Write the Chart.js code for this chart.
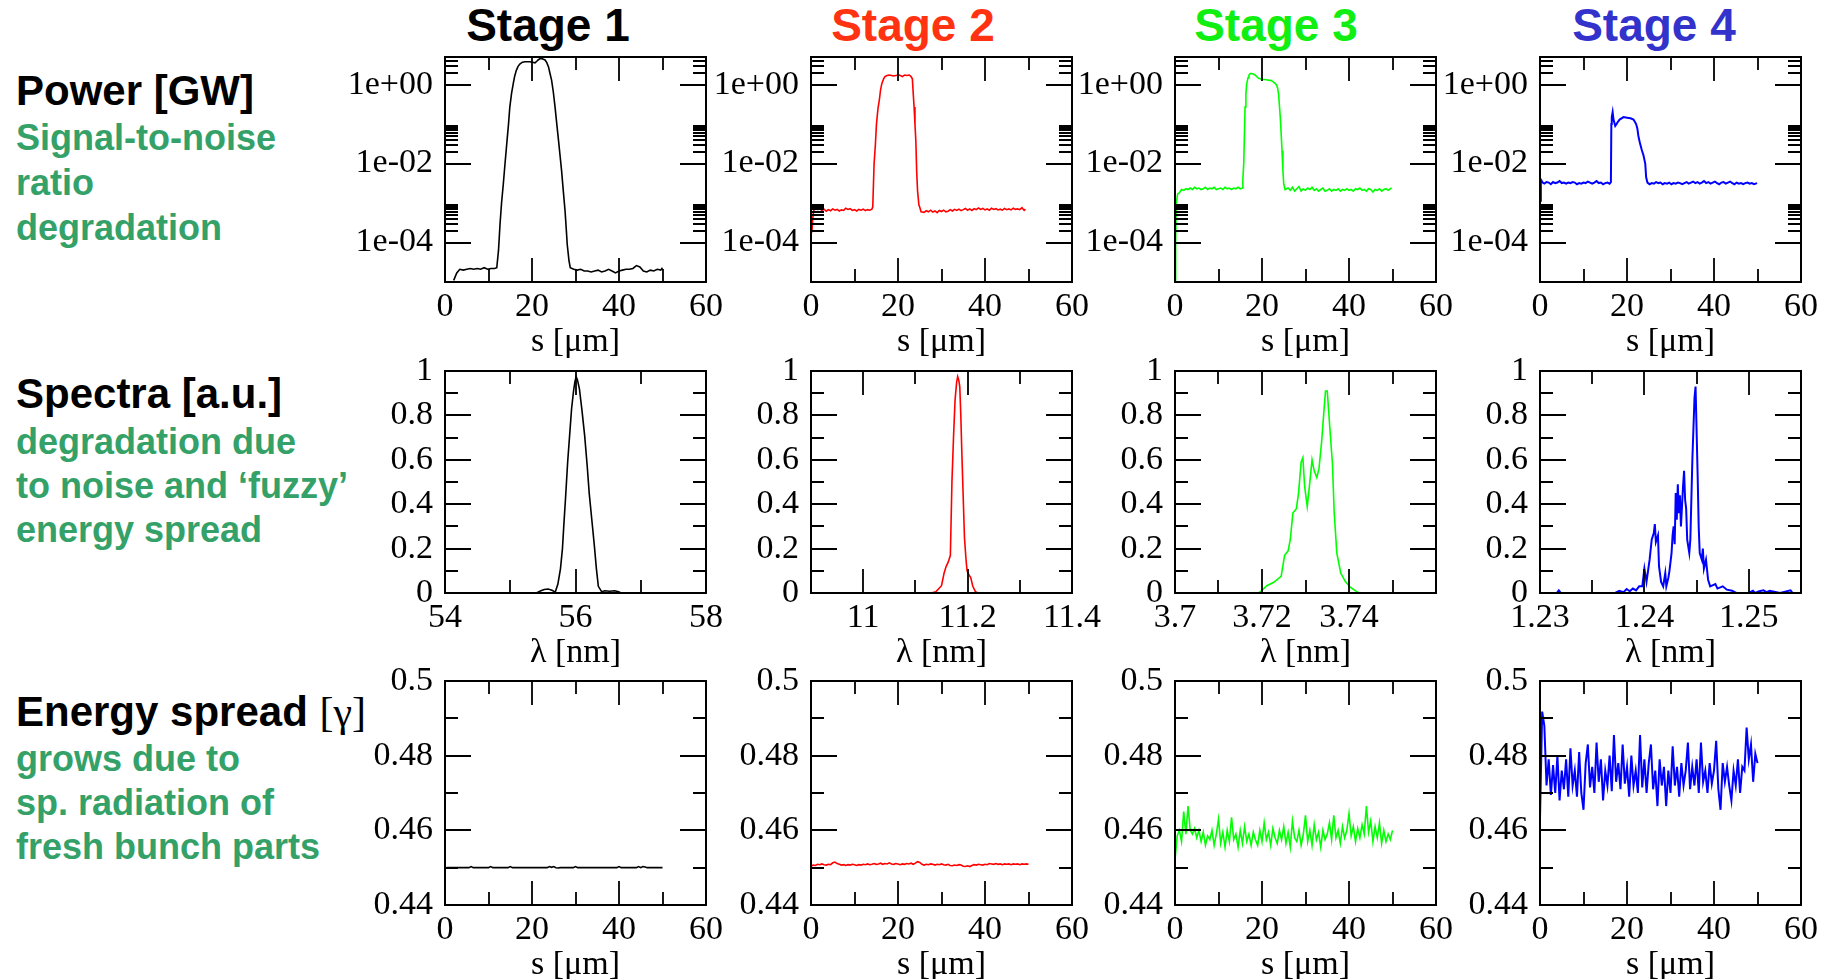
<!DOCTYPE html>
<html>
<head>
<meta charset="utf-8">
<script src="https://cdn.jsdelivr.net/npm/chart.js@4.4.1/dist/chart.umd.min.js"></script>
<style>
  html, body { margin: 0; padding: 0; background: #fff; }
  body { width: 1836px; height: 979px; position: relative; overflow: hidden; font-family: 'Liberation Sans', Arial, sans-serif; }
  canvas { position: absolute; }
  .stage { position: absolute; top: 2px; width: 320px; margin-left: -160px; text-align: center; font-weight: bold; font-size: 46px; line-height: 46px; white-space: nowrap; }
  .head { position: absolute; left: 16px; font-weight: bold; font-size: 42px; line-height: 42px; color: #000; white-space: nowrap; }
  .note { position: absolute; left: 16px; font-weight: bold; font-size: 36px; color: #34a169; white-space: nowrap; }
  .serif { font-family: 'Liberation Serif', 'Times New Roman', serif; font-weight: normal; }
</style>
</head>
<body>
<div class="stage" style="left:548px;color:#000">Stage 1</div>
<div class="stage" style="left:913px;color:#ff3311">Stage 2</div>
<div class="stage" style="left:1276px;color:#11ee11">Stage 3</div>
<div class="stage" style="left:1654px;color:#3333cc">Stage 4</div>

<div class="head" style="top:70px">Power [GW]</div>
<div class="note" style="top:115px;line-height:45px">Signal-to-noise<br>ratio<br>degradation</div>
<div class="head" style="top:373px">Spectra [a.u.]</div>
<div class="note" style="top:420px;line-height:44px">degradation due<br>to noise and ‘fuzzy’<br>energy spread</div>
<div class="head" style="top:691px">Energy spread <span class="serif">[γ]</span></div>
<div class="note" style="top:737px;line-height:44px">grows due to<br>sp. radiation of<br>fresh bunch parts</div>

<script>
// values
const stageColors = ['#000000', '#ff0000', '#00ff00', '#0000ff'];

// power [GW] vs s [um]
const powerStage1 = [[2.0,1.1e-5],[2.7,1.7e-5],[3.4,2.1e-5],[4.2,2.0e-5],[5.0,2.1e-5],[5.8,2.2e-5],[6.6,2.1e-5],[7.4,2.2e-5],[8.2,2.1e-5],[9.0,2.3e-5],[9.8,2.1e-5],[10.6,2.2e-5],[11.4,2.2e-5],[11.9,2.3e-5],[12.3,6.3e-5],[12.65,2.9e-4],[13.0,1.0e-3],[13.4,3.0e-3],[13.8,1.0e-2],[14.2,3.2e-2],[14.6,0.1],[14.9,0.27],[15.3,0.6],[15.7,1.07],[16.0,1.6],[16.4,2.3],[16.8,2.9],[17.2,3.3],[17.8,3.7],[18.4,3.8],[19.0,3.8],[19.5,3.8],[20.1,3.7],[20.7,3.55],[21.1,3.9],[21.4,4.2],[21.8,4.5],[22.2,4.6],[22.6,4.4],[23.0,4.2],[23.4,3.6],[23.8,2.8],[24.1,2.0],[24.5,1.3],[24.9,0.65],[25.3,0.27],[25.7,0.1],[26.1,0.038],[26.5,0.014],[26.8,6.6e-3],[27.2,2.0e-3],[27.6,6.3e-4],[27.9,2.0e-4],[28.1,8.9e-5],[28.5,3.5e-5],[28.8,2.3e-5],[29.6,2.1e-5],[30.4,2.0e-5],[31.2,2.1e-5],[32.0,1.9e-5],[32.8,1.9e-5],[33.6,1.8e-5],[34.4,1.9e-5],[35.2,2.0e-5],[36.0,1.8e-5],[36.8,1.9e-5],[37.6,2.1e-5],[38.4,1.9e-5],[39.2,1.7e-5],[40.0,1.9e-5],[40.8,2.0e-5],[41.6,2.1e-5],[42.4,2.1e-5],[43.2,2.2e-5],[44.0,2.6e-5],[44.8,2.4e-5],[45.6,1.9e-5],[46.4,1.8e-5],[47.2,2.0e-5],[48.0,1.9e-5],[48.8,2.1e-5],[49.6,2.0e-5],[50.0,2.3e-5]];
const powerStage2 = [[0.2,1.8e-4],[0.4,4.0e-4],[0.6,6.3e-4],[1.0,7.5e-4],[1.5,6.8e-4],[2.0,7.2e-4],[2.5,6.5e-4],[3.0,7.0e-4],[3.5,6.2e-4],[4.0,6.8e-4],[4.5,6.4e-4],[5.0,7.1e-4],[5.5,6.6e-4],[6.0,6.9e-4],[6.5,6.3e-4],[7.0,6.7e-4],[7.5,6.5e-4],[8.0,7.4e-4],[8.5,6.9e-4],[9.0,7.2e-4],[9.5,6.5e-4],[10.0,6.8e-4],[10.5,6.3e-4],[11.0,6.9e-4],[11.5,6.6e-4],[12.0,7.0e-4],[12.5,6.4e-4],[13.0,6.8e-4],[13.5,6.6e-4],[14.0,7.0e-4],[14.2,8.0e-4],[14.5,9.8e-3],[14.8,3.0e-2],[15.05,0.1],[15.4,0.25],[15.7,0.4],[16.0,0.75],[16.3,1.07],[16.7,1.4],[17.0,1.6],[17.5,1.7],[18.0,1.75],[18.5,1.7],[19.0,1.65],[19.5,1.7],[20.3,1.75],[21.0,1.6],[21.5,1.75],[22.0,1.7],[22.6,1.75],[23.0,1.6],[23.3,1.4],[23.5,0.6],[23.7,0.27],[23.9,0.1],[24.1,0.038],[24.3,6.0e-3],[24.5,2.0e-3],[24.8,9.0e-4],[25.0,7.8e-4],[25.3,6.0e-4],[26.0,5.8e-4],[26.5,6.4e-4],[27.0,6.0e-4],[27.5,6.6e-4],[28.0,5.9e-4],[28.5,6.3e-4],[29.0,5.7e-4],[29.5,6.5e-4],[30.0,6.1e-4],[30.5,6.6e-4],[31.0,6.0e-4],[31.5,6.2e-4],[32.0,6.8e-4],[32.5,6.3e-4],[33.0,6.9e-4],[33.5,6.5e-4],[34.0,7.0e-4],[34.5,6.4e-4],[35.0,6.8e-4],[35.5,7.3e-4],[36.0,6.6e-4],[36.5,7.1e-4],[37.0,6.5e-4],[37.5,7.2e-4],[38.0,6.8e-4],[38.5,7.5e-4],[39.0,6.9e-4],[39.5,7.3e-4],[40.0,6.7e-4],[40.5,7.1e-4],[41.0,6.6e-4],[41.5,7.4e-4],[42.0,6.9e-4],[42.5,7.2e-4],[43.0,6.7e-4],[43.5,7.0e-4],[44.0,6.6e-4],[44.5,7.3e-4],[45.0,6.8e-4],[45.5,7.1e-4],[46.0,6.7e-4],[46.5,7.4e-4],[47.0,6.9e-4],[47.5,7.1e-4],[48.0,6.8e-4],[48.5,7.6e-4],[49.0,6.5e-4],[49.3,7.0e-4]];
const powerStage3 = [[0.05,5.0e-6],[0.15,1.0e-4],[0.3,1.0e-3],[0.6,1.7e-3],[1.0,1.8e-3],[1.5,2.2e-3],[2.0,2.1e-3],[2.5,2.3e-3],[3.0,2.2e-3],[3.5,2.4e-3],[4.0,2.2e-3],[4.5,2.5e-3],[5.0,2.3e-3],[5.5,2.4e-3],[6.0,2.2e-3],[6.5,2.3e-3],[7.0,2.5e-3],[7.5,2.2e-3],[8.0,2.4e-3],[8.5,2.3e-3],[9.0,2.5e-3],[9.5,2.2e-3],[10.0,2.3e-3],[10.5,2.4e-3],[11.0,2.2e-3],[11.5,2.5e-3],[12.0,2.3e-3],[12.5,2.4e-3],[13.0,2.2e-3],[13.5,2.4e-3],[14.0,2.3e-3],[14.5,2.5e-3],[15.0,2.3e-3],[15.5,2.4e-3],[15.6,4.0e-3],[15.8,9.8e-3],[15.95,0.05],[16.1,0.27],[16.3,0.6],[16.5,1.07],[16.8,1.5],[17.0,1.74],[17.3,1.9],[17.6,1.9],[18.0,1.85],[18.4,1.75],[18.8,1.6],[19.2,1.45],[19.6,1.4],[20.0,1.35],[20.5,1.35],[21.0,1.33],[21.5,1.3],[22.0,1.28],[22.6,1.17],[23.0,1.08],[23.4,0.95],[23.6,0.8],[23.8,0.59],[24.0,0.3],[24.2,0.15],[24.4,0.06],[24.6,0.021],[24.8,7.0e-3],[25.0,3.0e-3],[25.3,2.2e-3],[26.0,2.4e-3],[26.5,2.1e-3],[27.0,2.5e-3],[27.5,2.0e-3],[28.0,2.3e-3],[28.5,2.6e-3],[29.0,2.0e-3],[29.5,2.3e-3],[30.0,2.1e-3],[30.5,2.4e-3],[31.0,2.2e-3],[31.5,2.5e-3],[32.0,2.1e-3],[32.5,2.3e-3],[33.0,2.0e-3],[33.5,2.2e-3],[34.0,2.4e-3],[34.5,2.0e-3],[35.0,2.1e-3],[35.5,2.3e-3],[36.0,2.0e-3],[36.5,2.2e-3],[37.0,2.1e-3],[37.5,2.3e-3],[38.0,2.0e-3],[38.5,2.2e-3],[39.0,2.1e-3],[39.5,2.3e-3],[40.0,2.1e-3],[40.5,2.2e-3],[41.0,2.0e-3],[41.5,2.3e-3],[42.0,2.2e-3],[42.5,2.4e-3],[43.0,2.1e-3],[43.5,2.2e-3],[44.0,2.0e-3],[44.5,2.3e-3],[45.0,2.2e-3],[45.5,1.9e-3],[46.0,2.2e-3],[46.5,2.1e-3],[47.0,2.3e-3],[47.5,2.0e-3],[48.0,2.2e-3],[48.5,2.3e-3],[49.0,2.1e-3],[49.5,2.3e-3],[49.8,2.4e-3]];
const powerStage4 = [[0.05,1.15e-3],[0.2,3.9e-3],[0.6,3.3e-3],[1.0,3.1e-3],[1.5,3.4e-3],[2.0,3.3e-3],[2.5,3.0e-3],[3.0,3.4e-3],[3.5,3.2e-3],[4.0,3.3e-3],[4.5,3.6e-3],[5.0,3.2e-3],[5.5,3.3e-3],[6.0,3.1e-3],[6.5,3.3e-3],[7.0,3.2e-3],[7.5,3.4e-3],[8.0,3.3e-3],[8.5,3.0e-3],[9.0,3.2e-3],[9.5,3.1e-3],[10.0,3.3e-3],[10.5,3.2e-3],[11.0,3.5e-3],[11.5,3.3e-3],[12.0,3.1e-3],[12.5,3.3e-3],[13.0,3.6e-3],[13.5,3.2e-3],[14.0,3.3e-3],[14.5,3.0e-3],[15.0,3.2e-3],[15.5,3.3e-3],[16.0,3.1e-3],[16.3,3.4e-3],[16.4,0.1],[16.5,0.15],[16.7,0.2],[16.9,0.13],[17.3,0.09],[17.6,0.1],[17.8,0.11],[18.3,0.13],[19.2,0.15],[20.0,0.145],[20.8,0.14],[21.5,0.13],[22.1,0.1],[22.4,0.075],[22.6,0.051],[22.8,0.04],[23.0,0.032],[23.4,0.022],[23.8,0.016],[24.2,9.8e-3],[24.4,4.5e-3],[24.7,3.3e-3],[25.2,3.0e-3],[25.7,3.2e-3],[26.2,3.1e-3],[26.7,3.4e-3],[27.2,3.2e-3],[27.7,3.3e-3],[28.2,3.0e-3],[28.7,3.2e-3],[29.2,3.1e-3],[29.7,3.3e-3],[30.2,3.0e-3],[30.7,3.2e-3],[31.2,3.1e-3],[31.7,3.3e-3],[32.2,3.2e-3],[32.7,3.0e-3],[33.2,3.2e-3],[33.7,3.4e-3],[34.2,3.1e-3],[34.7,3.3e-3],[35.2,3.5e-3],[35.7,3.2e-3],[36.2,3.4e-3],[36.7,3.1e-3],[37.2,3.3e-3],[37.7,3.6e-3],[38.2,3.2e-3],[38.7,3.4e-3],[39.2,3.1e-3],[39.7,3.3e-3],[40.2,3.5e-3],[40.7,3.2e-3],[41.2,3.0e-3],[41.7,3.3e-3],[42.2,3.4e-3],[42.7,3.1e-3],[43.2,3.3e-3],[43.7,3.5e-3],[44.2,3.2e-3],[44.7,3.0e-3],[45.2,3.3e-3],[45.7,3.1e-3],[46.2,3.2e-3],[46.7,3.0e-3],[47.2,3.2e-3],[47.7,3.3e-3],[48.2,3.1e-3],[48.7,3.2e-3],[49.2,3.0e-3],[49.9,3.2e-3]];

// spectra [a.u.] vs lambda [nm]
const spectrumStage1 = [[55.40,0],[55.47,0.01],[55.52,0.016],[55.58,0.018],[55.64,0.012],[55.69,0.004],[55.73,0.04],[55.77,0.11],[55.80,0.2],[55.82,0.30],[55.85,0.44],[55.88,0.59],[55.91,0.71],[55.94,0.83],[55.97,0.91],[55.99,0.95],[56.01,0.975],[56.03,0.96],[56.06,0.92],[56.10,0.82],[56.14,0.71],[56.18,0.57],[56.21,0.45],[56.25,0.33],[56.29,0.21],[56.32,0.11],[56.35,0.03],[56.40,0.006],[56.45,0.01],[56.52,0.008],[56.60,0.01],[56.66,0.006],[56.70,0]];
const spectrumStage2 = [[11.130,0],[11.139,0.005],[11.145,0.02],[11.150,0.033],[11.155,0.09],[11.159,0.12],[11.163,0.14],[11.167,0.17],[11.170,0.5],[11.173,0.7],[11.176,0.87],[11.179,0.95],[11.181,0.975],[11.183,0.96],[11.185,0.93],[11.187,0.8],[11.189,0.63],[11.192,0.4],[11.194,0.25],[11.197,0.15],[11.199,0.1],[11.203,0.08],[11.206,0.07],[11.210,0.03],[11.215,0.006],[11.220,0]];
const spectrumStage3 = [[3.7190,0],[3.7197,0.006],[3.7211,0.033],[3.7227,0.048],[3.7244,0.075],[3.7252,0.17],[3.7260,0.19],[3.7265,0.24],[3.7271,0.36],[3.7279,0.38],[3.7284,0.45],[3.7290,0.59],[3.7294,0.61],[3.7298,0.48],[3.7304,0.39],[3.7309,0.48],[3.7315,0.60],[3.7320,0.55],[3.7326,0.52],[3.7331,0.56],[3.7337,0.68],[3.7342,0.81],[3.7346,0.91],[3.7350,0.91],[3.7355,0.77],[3.7362,0.58],[3.7366,0.36],[3.7372,0.18],[3.7381,0.09],[3.7392,0.05],[3.7403,0.026],[3.7419,0.004],[3.7425,0]];
const spectrumStage4 = [[1.2300,0],[1.2316,0],[1.2318,0.012],[1.2320,0],[1.2372,0],[1.2376,0.01],[1.2380,0.004],[1.2383,0.018],[1.2386,0.008],[1.2389,0.02],[1.2392,0.012],[1.2395,0.03],[1.2398,0.03],[1.2400,0.11],[1.2402,0.05],[1.2405,0.15],[1.2407,0.24],[1.2409,0.27],[1.2410,0.31],[1.2411,0.23],[1.2413,0.26],[1.2414,0.12],[1.2416,0.05],[1.2418,0.03],[1.2420,0.09],[1.2421,0.03],[1.2423,0.07],[1.2424,0.10],[1.2426,0.18],[1.2427,0.26],[1.2428,0.30],[1.2429,0.22],[1.2430,0.45],[1.2431,0.33],[1.2432,0.49],[1.2433,0.36],[1.2434,0.44],[1.2435,0.30],[1.2436,0.39],[1.2437,0.48],[1.2438,0.55],[1.2439,0.42],[1.2440,0.38],[1.2441,0.24],[1.2443,0.18],[1.2444,0.24],[1.2446,0.61],[1.2448,0.88],[1.2449,0.93],[1.2451,0.53],[1.2452,0.30],[1.2453,0.18],[1.2455,0.15],[1.2456,0.20],[1.2457,0.11],[1.2459,0.15],[1.2461,0.06],[1.2463,0.03],[1.2468,0.04],[1.2470,0.02],[1.2475,0.03],[1.2479,0.015],[1.2484,0.01],[1.2488,0],[1.2500,0],[1.2504,0.01],[1.2506,0],[1.2510,0.008],[1.2514,0.012],[1.2517,0.004],[1.2520,0.01],[1.2530,0],[1.2540,0.012],[1.2542,0]];

// energy spread [gamma] vs s [um]
const spreadS = [0,0.5,1,1.5,2,2.5,3,3.5,4,4.5,5,5.5,6,6.5,7,7.5,8,8.5,9,9.5,10,10.5,11,11.5,12,12.5,13,13.5,14,14.5,15,15.5,16,16.5,17,17.5,18,18.5,19,19.5,20,20.5,21,21.5,22,22.5,23,23.5,24,24.5,25,25.5,26,26.5,27,27.5,28,28.5,29,29.5,30,30.5,31,31.5,32,32.5,33,33.5,34,34.5,35,35.5,36,36.5,37,37.5,38,38.5,39,39.5,40,40.5,41,41.5,42,42.5,43,43.5,44,44.5,45,45.5,46,46.5,47,47.5,48,48.5,49,49.5,50];
const spreadStage1 = [0.4499,0.4500,0.4500,0.4500,0.4500,0.4500,0.4500,0.4500,0.4500,0.4500,
  0.4500,0.4500,0.4503,0.4500,0.4500,0.4500,0.4500,0.4500,0.4500,0.4500,
  0.4500,0.4503,0.4500,0.4500,0.4500,0.4500,0.4500,0.4500,0.4500,0.4500,
  0.4503,0.4500,0.4500,0.4500,0.4500,0.4500,0.4500,0.4500,0.4500,0.4500,
  0.4500,0.4500,0.4500,0.4500,0.4500,0.4500,0.4500,0.4500,0.4503,0.4501,
  0.4503,0.4500,0.4499,0.4500,0.4500,0.4500,0.4500,0.4500,0.4500,0.4500,
  0.4503,0.4500,0.4500,0.4500,0.4500,0.4500,0.4500,0.4500,0.4500,0.4500,
  0.4500,0.4500,0.4500,0.4500,0.4500,0.4500,0.4500,0.4500,0.4500,0.4500,
  0.4503,0.4500,0.4500,0.4500,0.4500,0.4500,0.4500,0.4500,0.4500,0.4503,
  0.4500,0.4503,0.4502,0.4500,0.4500,0.4500,0.4500,0.4500,0.4500,0.4500,
  0.4500];
const spreadStage2 = [0.4504,0.4507,0.4506,0.4509,0.4508,0.4510,0.4508,0.4507,0.4509,0.4508,
  0.4513,0.4515,0.4511,0.4509,0.4507,0.4508,0.4506,0.4508,0.4507,0.4509,
  0.4508,0.4506,0.4508,0.4507,0.4509,0.4508,0.4510,0.4508,0.4509,0.4511,
  0.4509,0.4510,0.4512,0.4509,0.4511,0.4510,0.4513,0.4510,0.4509,0.4511,
  0.4510,0.4508,0.4510,0.4509,0.4511,0.4510,0.4512,0.4509,0.4512,0.4516,
  0.4514,0.4509,0.4507,0.4509,0.4508,0.4510,0.4509,0.4507,0.4509,0.4508,
  0.4510,0.4508,0.4507,0.4509,0.4506,0.4505,0.4507,0.4506,0.4508,0.4507,
  0.4504,0.4503,0.4505,0.4503,0.4506,0.4508,0.4507,0.4509,0.4508,0.4507,
  0.4509,0.4508,0.4511,0.4510,0.4509,0.4511,0.4509,0.4510,0.4508,0.4510,
  0.4509,0.4510,0.4508,0.4510,0.4509,0.4510,0.4508,0.4510,0.4509,0.4510,
  0.4509];
const spreadStage3 = [0.4520,0.4585,0.4600,0.4570,0.4650,0.4590,0.4665,0.4600,0.4590,0.4605,
  0.4580,0.4600,0.4570,0.4595,0.4560,0.4585,0.4575,0.4600,0.4560,0.4590,
  0.4630,0.4565,0.4595,0.4555,0.4600,0.4570,0.4635,0.4575,0.4590,0.4555,
  0.4600,0.4565,0.4610,0.4570,0.4590,0.4560,0.4595,0.4575,0.4560,0.4600,
  0.4570,0.4620,0.4575,0.4595,0.4560,0.4605,0.4580,0.4565,0.4600,0.4575,
  0.4610,0.4565,0.4595,0.4555,0.4625,0.4580,0.4570,0.4600,0.4560,0.4590,
  0.4640,0.4570,0.4600,0.4560,0.4615,0.4575,0.4595,0.4555,0.4600,0.4575,
  0.4590,0.4620,0.4575,0.4640,0.4580,0.4600,0.4565,0.4610,0.4580,0.4600,
  0.4645,0.4585,0.4610,0.4570,0.4605,0.4580,0.4615,0.4590,0.4665,0.4595,
  0.4625,0.4570,0.4610,0.4580,0.4620,0.4565,0.4600,0.4570,0.4590,0.4575,
  0.4600];
const spreadStage4 = [0.4630,0.4918,0.4880,0.4720,0.4790,0.4695,0.4775,0.4700,0.4800,0.4680,
  0.4760,0.4710,0.4790,0.4690,0.4820,0.4720,0.4760,0.4690,0.4810,0.4700,
  0.4655,0.4780,0.4830,0.4715,0.4770,0.4700,0.4835,0.4730,0.4790,0.4680,
  0.4760,0.4720,0.4800,0.4705,0.4855,0.4730,0.4780,0.4710,0.4830,0.4725,
  0.4770,0.4690,0.4800,0.4720,0.4760,0.4700,0.4855,0.4715,0.4790,0.4700,
  0.4780,0.4830,0.4710,0.4760,0.4665,0.4790,0.4720,0.4770,0.4665,0.4760,
  0.4700,0.4825,0.4720,0.4770,0.4690,0.4780,0.4720,0.4760,0.4835,0.4710,
  0.4770,0.4720,0.4790,0.4700,0.4835,0.4730,0.4760,0.4700,0.4780,0.4725,
  0.4760,0.4840,0.4710,0.4655,0.4780,0.4730,0.4770,0.4720,0.4680,0.4760,
  0.4720,0.4790,0.4700,0.4770,0.4760,0.4875,0.4790,0.4830,0.4730,0.4805,
  0.4780];

// axis ticks and labels
const sTicks = [0, 20, 40, 60];
const sMinor = [10, 30, 50];
const sLabels = ['0', '20', '40', '60'];
const powerTicks = [1e-4, 1e-2, 1];
const powerMinor = [2e-4, 3e-4, 4e-4, 5e-4, 6e-4, 7e-4, 8e-4, 9e-4, 2e-2, 3e-2, 4e-2, 5e-2, 6e-2, 7e-2, 8e-2, 9e-2, 2, 3, 4, 5];
const powerLabels = ['1e-04', '1e-02', '1e+00'];
const spectrumTicks = [0, 0.2, 0.4, 0.6, 0.8, 1];
const spectrumMinor = [0.1, 0.3, 0.5, 0.7, 0.9];
const spectrumLabels = ['0', '0.2', '0.4', '0.6', '0.8', '1'];
const spreadTicks = [0.44, 0.46, 0.48, 0.5];
const spreadMinor = [0.45, 0.47, 0.49];
const spreadLabels = ['0.44', '0.46', '0.48', '0.5'];
const lambdaRanges = [[54, 58], [10.9, 11.4], [3.70, 3.76], [1.23, 1.255]];
const lambdaTicks = [[54, 56, 58], [11, 11.2, 11.4], [3.70, 3.72, 3.74, 3.76], [1.23, 1.24, 1.25]];
const lambdaMinor = [[55, 57], [11.1, 11.3], [3.71, 3.73, 3.75], [1.235, 1.245]];
const lambdaLabels = [['54', '56', '58'], ['11', '11.2', '11.4'], ['3.7', '3.72', '3.74', ''], ['1.23', '1.24', '1.25']];

// layout of the plot boxes (px)
const colLeft = [445, 811, 1175, 1540];
const colRight = [706, 1072, 1436, 1801];
const rowTop = [57, 371, 681];
const rowBottom = [282, 593, 905];
const AXIS_W = 120, AXIS_H = 90, PAD_T = 20, PAD_R = 40;

const tickFont = { family: "'Liberation Serif', 'Times New Roman', serif", size: 34 };

// xmgrace-like frame with inward ticks on all four sides
const xmFrame = {
  id: 'xmFrame',
  afterDatasetsDraw(chart, args, opts) {
    const { ctx, chartArea: a, scales: { x, y } } = chart;
    const mark = (scale, vals, len) => {
      vals.forEach(v => {
        const p = Math.round(scale.getPixelForValue(v));
        if (scale.isHorizontal()) {
          ctx.moveTo(p, a.bottom); ctx.lineTo(p, a.bottom - len);
          ctx.moveTo(p, a.top); ctx.lineTo(p, a.top + len);
        } else {
          ctx.moveTo(a.left, p); ctx.lineTo(a.left + len, p);
          ctx.moveTo(a.right, p); ctx.lineTo(a.right - len, p);
        }
      });
    };
    ctx.save();
    ctx.strokeStyle = '#000';
    ctx.lineWidth = 1.8;
    ctx.beginPath();
    mark(x, x.ticks.map(t => t.value), 24);
    mark(x, opts.xMinor, 13);
    mark(y, y.ticks.map(t => t.value), 26);
    mark(y, opts.yMinor, 13);
    ctx.stroke();
    ctx.lineWidth = 2;
    ctx.strokeRect(a.left, a.top, a.right - a.left, a.bottom - a.top);
    ctx.restore();
  }
};

const toPoints = pairs => pairs.map(([x, y]) => ({ x, y }));
const spreadPoints = vals => spreadS.map((s, i) => ({ x: s, y: vals[i] }));

function axis(min, max, ticks, labels, title, isX, type) {
  return {
    type: type || 'linear',
    position: isX ? 'bottom' : 'left',
    min, max,
    bounds: 'data',
    grid: { display: false, drawTicks: false },
    border: { display: false },
    afterBuildTicks: s => { s.ticks = ticks.map(v => ({ value: v })); },
    afterFit: s => {
      if (isX) s.height = AXIS_H; else s.width = AXIS_W;
      // keep the plot box where it is, labels may hang over the margins
      s.paddingTop = 0; s.paddingBottom = 0; s.paddingLeft = 0; s.paddingRight = 0;
    },
    ticks: {
      autoSkip: false, maxRotation: 0, minRotation: 0,
      padding: isX ? 5 : 12,
      color: '#000', font: tickFont,
      callback: (v, i) => labels[i]
    },
    title: {
      display: !!title, text: title, color: '#000', font: tickFont,
      padding: { top: 0, bottom: 10 }
    }
  };
}

function makePanel(row, col, points, xScale, yScale, xMinor, yMinor) {
  const w = colRight[col] - colLeft[col] + AXIS_W + PAD_R;
  const h = rowBottom[row] - rowTop[row] + PAD_T + AXIS_H;
  const canvas = document.createElement('canvas');
  canvas.width = w; canvas.height = h;
  canvas.style.left = (colLeft[col] - AXIS_W) + 'px';
  canvas.style.top = (rowTop[row] - PAD_T) + 'px';
  document.body.appendChild(canvas);
  new Chart(canvas, {
    type: 'line',
    data: {
      datasets: [{
        data: points,
        borderColor: stageColors[col],
        borderWidth: col === 3 ? 2 : 1.6,
        pointRadius: 0,
        tension: 0,
        fill: false
      }]
    },
    options: {
      responsive: false,
      animation: false,
      events: [],
      layout: { padding: { left: 0, top: PAD_T, right: PAD_R, bottom: 0 } },
      plugins: {
        legend: { display: false },
        tooltip: { enabled: false },
        xmFrame: { xMinor, yMinor }
      },
      scales: { x: xScale, y: yScale }
    },
    plugins: [xmFrame]
  });
}

const powerData = [powerStage1, powerStage2, powerStage3, powerStage4];
const spectrumData = [spectrumStage1, spectrumStage2, spectrumStage3, spectrumStage4];
const spreadData = [spreadStage1, spreadStage2, spreadStage3, spreadStage4];

for (let c = 0; c < 4; c++) {
  makePanel(0, c, toPoints(powerData[c]),
    axis(0, 60, sTicks, sLabels, 's [μm]', true),
    axis(1e-5, 5, powerTicks, powerLabels, '', false, 'logarithmic'),
    sMinor, powerMinor);
  makePanel(1, c, toPoints(spectrumData[c]),
    axis(lambdaRanges[c][0], lambdaRanges[c][1], lambdaTicks[c], lambdaLabels[c], 'λ [nm]', true),
    axis(0, 1, spectrumTicks, spectrumLabels, '', false),
    lambdaMinor[c], spectrumMinor);
  makePanel(2, c, spreadPoints(spreadData[c]),
    axis(0, 60, sTicks, sLabels, 's [μm]', true),
    axis(0.44, 0.5, spreadTicks, spreadLabels, '', false),
    sMinor, spreadMinor);
}
</script>
</body>
</html>
